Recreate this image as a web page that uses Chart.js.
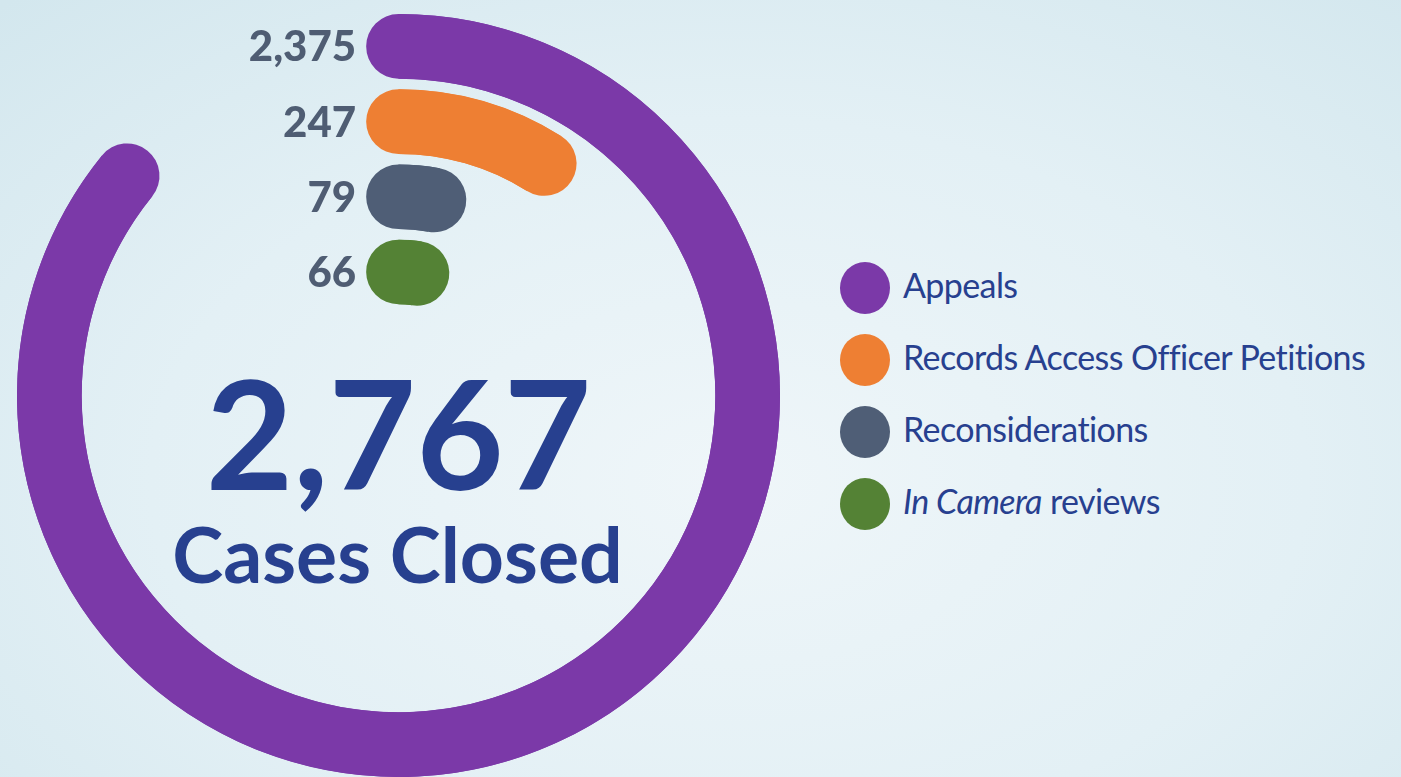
<!DOCTYPE html>
<html>
<head>
<meta charset="utf-8">
<script src="https://cdn.jsdelivr.net/npm/chart.js@4.4.1/dist/chart.umd.min.js"></script>
<style>
  html, body { margin: 0; padding: 0; }
  body {
    width: 1401px; height: 777px; overflow: hidden; position: relative;
    background: radial-gradient(ellipse 75% 85% at 52% 62%, #eff6f9 0%, #e3f0f5 55%, #d3e7ee 100%);
    font-family: Lato, "Open Sans", sans-serif;
  }
  #chart-box { position: absolute; left: 17px; top: 14px; width: 763px; height: 763px; }
  #legend { position: absolute; left: 840px; top: 252px; }
  .row { display: flex; align-items: center; height: 72px; }
  .dot { width: 50px; height: 52px; border-radius: 50%; }
  .label { margin-left: 13px; font-size: 34px; letter-spacing: -0.6px; color: #27408f; white-space: nowrap; position: relative; top: -4px; }
</style>
</head>
<body>
<div id="chart-box"><canvas id="cases-chart"></canvas></div>
<div id="legend"></div>
<script>
// Chart data
const categories = ['Appeals', 'Records Access Officer Petitions', 'Reconsiderations', 'In Camera reviews'];
const legendLabels = ['Appeals', 'Records Access Officer Petitions', 'Reconsiderations', '<i>In Camera</i> reviews'];
const caseCounts = [2375, 247, 79, 66];
const countLabels = ['2,375', '247', '79', '66'];
const totalClosed = 2767;
const totalLabel = '2,767';
const colors = ['#7b39a8', '#ee7f33', '#4f5e76', '#548235'];

// Build legend
const legend = document.getElementById('legend');
legendLabels.forEach(function(text, i) {
    const row = document.createElement('div');
    row.className = 'row';
    row.innerHTML = '<div class="dot" style="background:' + colors[i] + '"></div><div class="label">' + text + '</div>';
    legend.appendChild(row);
});

// One ring per category, with thin empty rings in between
const datasets = [];
categories.forEach(function(name, i) {
    if (i > 0) {
        datasets.push({ data: [1], backgroundColor: ['rgba(0,0,0,0)'], weight: 10.5, spacer: true });
    }
    datasets.push({
        label: name,
        data: [caseCounts[i], totalClosed - caseCounts[i]],
        backgroundColor: [colors[i], 'rgba(0,0,0,0)'],
        weight: 64.5,
        ringIndex: i
    });
});

// Round caps on each ring, value labels and the total in the middle
const ringDecor = {
    id: 'ringDecor',
    afterDatasetsDraw(chart) {
        const ctx = chart.ctx;
        let cx = 0, cy = 0;
        chart.data.datasets.forEach(function(ds, d) {
            if (ds.spacer) return;
            const arc = chart.getDatasetMeta(d).data[0];
            const p = arc.getProps(['x', 'y', 'startAngle', 'endAngle', 'innerRadius', 'outerRadius']);
            const mid = (p.innerRadius + p.outerRadius) / 2;
            const w = p.outerRadius - p.innerRadius;
            cx = p.x; cy = p.y;
            ctx.save();
            ctx.beginPath();
            ctx.arc(p.x, p.y, mid, p.startAngle, p.endAngle);
            ctx.lineWidth = w;
            ctx.lineCap = 'round';
            ctx.strokeStyle = colors[ds.ringIndex];
            ctx.stroke();

            // value label left of the ring start
            ctx.font = '900 42px Lato, "Open Sans", sans-serif';
            ctx.fillStyle = '#4f5d73';
            ctx.textAlign = 'right';
            ctx.textBaseline = 'alphabetic';
            ctx.fillText(countLabels[ds.ringIndex], p.x - w / 2 - 10, p.y - mid + 15);
            ctx.restore();
        });

        ctx.save();
        ctx.fillStyle = '#27408f';
        ctx.textAlign = 'center';
        ctx.textBaseline = 'alphabetic';
        ctx.font = 'bold 151px Lato, "Open Sans", sans-serif';
        ctx.fillText(totalLabel, cx, cy + 94);
        ctx.font = 'bold 77px Lato, "Open Sans", sans-serif';
        ctx.fillText('Cases Closed', cx - 1, cy + 187);
        ctx.restore();
    }
};

const chart = new Chart(document.getElementById('cases-chart'), {
    type: 'doughnut',
    data: { datasets: datasets },
    options: {
        responsive: true,
        maintainAspectRatio: false,
        animation: false,
        events: [],
        cutout: '23.9%',
        borderWidth: 0,
        layout: { padding: 0 },
        plugins: {
            legend: { display: false },
            tooltip: { enabled: false }
        }
    },
    plugins: [ringDecor]
});
</script>
</body>
</html>
